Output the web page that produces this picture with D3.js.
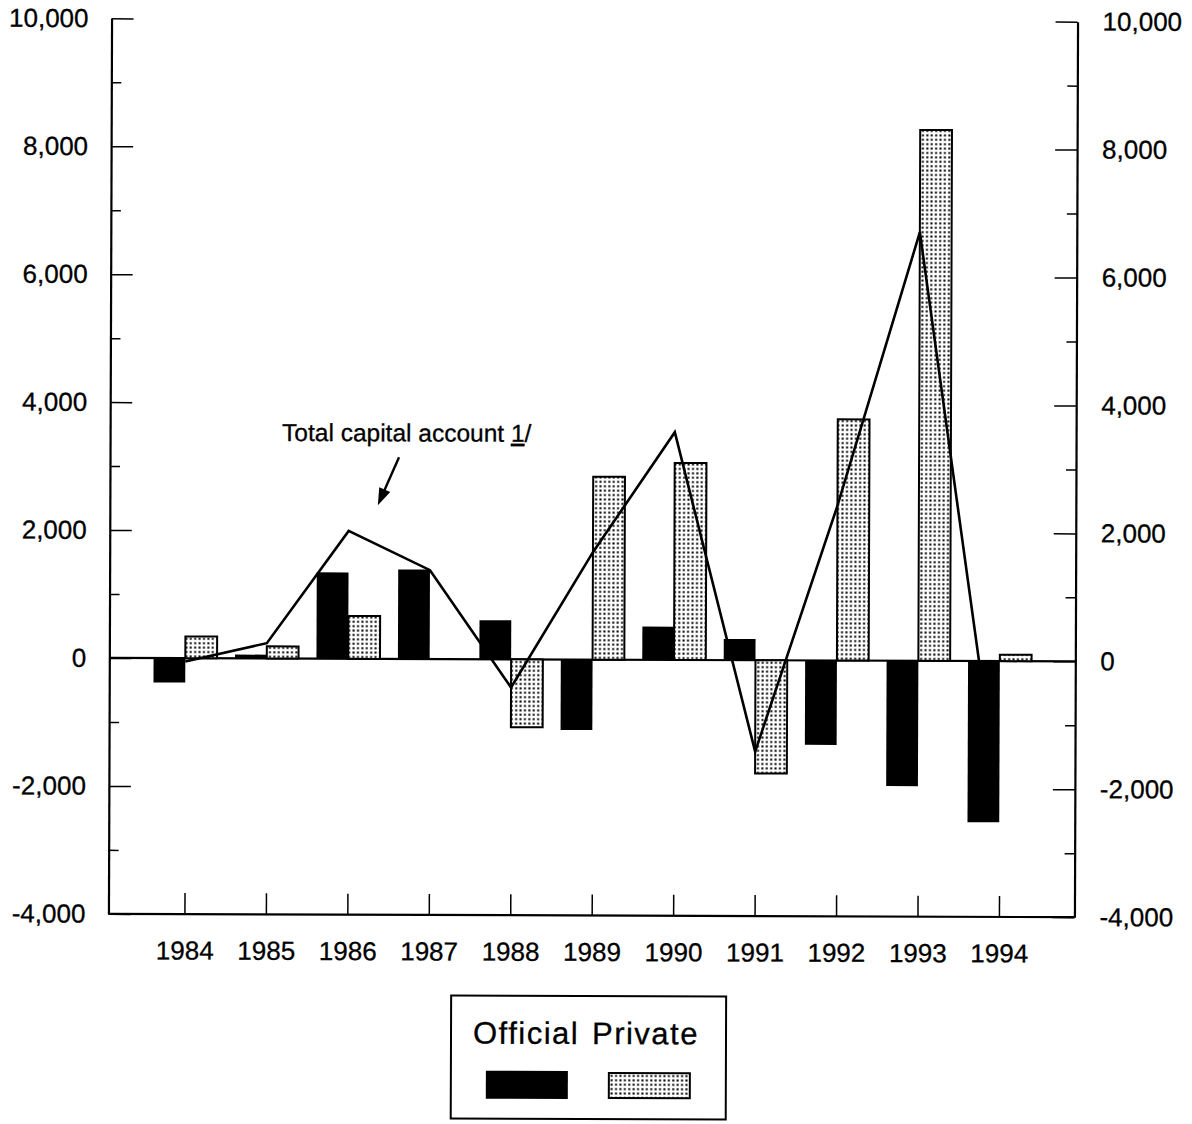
<!DOCTYPE html>
<html>
<head>
<meta charset="utf-8">
<script src="https://cdn.jsdelivr.net/npm/d3@7"></script>
<style>
  html, body { margin: 0; padding: 0; background: #fff; }
  #chart { width: 1192px; height: 1124px; overflow: hidden; }
</style>
</head>
<body>
<div id="chart"></div>
<script>
// years on the bottom axis
var years = [1984, 1985, 1986, 1987, 1988, 1989, 1990, 1991, 1992, 1993, 1994];
// official capital flows (black bars)
var official = [-380, 60, 1350, 1400, 610, -1100, 520, 330, -1320, -1960, -2520];
// private capital flows (dotted bars)
var privateFlows = [340, 190, 670, 0, -1060, 2860, 3080, -1770, 3770, 8300, 100];
// total capital account (line)
var total = [-50, 240, 2000, 1390, -440, 1680, 3560, -1430, 2420, 6700, -2300];
// value axis ticks
var majorTicks = [-4000, -2000, 0, 2000, 4000, 6000, 8000, 10000];
var minorTicks = [-3000, -1000, 1000, 3000, 5000, 7000, 9000];
var legendLabels = ["Official", "Private"];

var width = 1192;
var height = 1124;
var fontFamily = "'Liberation Sans', Arial, sans-serif";

var plotLeft = 110, plotRight = 1076, plotTop = 20, plotBottom = 915.5;

var locale = d3.formatLocale({ decimal: ".", thousands: ",", grouping: [3], currency: ["$", ""], minus: "-" });
var fmt = locale.format(",");

var svg = d3.select("#chart").append("svg")
  .attr("width", width)
  .attr("height", height)
  .attr("font-family", fontFamily);

var defs = svg.append("defs");
var pat = defs.append("pattern")
  .attr("id", "dots")
  .attr("patternUnits", "userSpaceOnUse")
  .attr("width", 4.4)
  .attr("height", 4.4);
pat.append("rect").attr("width", 4.4).attr("height", 4.4).attr("fill", "#fff");
pat.append("rect").attr("x", 1.2).attr("y", 1.2).attr("width", 2).attr("height", 2).attr("fill", "#000");

// the scanned page is tilted a little
var g = svg.append("g").attr("transform", "rotate(0.2, 593, 466)");

var y = d3.scaleLinear().domain([-4000, 10000]).range([plotBottom, plotTop]);
var x = d3.scalePoint().domain(years).range([186, 1000.5]);
var bw = x.step() * 0.39;

// keep the end of the line inside the last black bar
defs.append("clipPath")
  .attr("id", "lineClip")
  .append("rect")
  .attr("x", plotLeft)
  .attr("y", plotTop)
  .attr("width", x(years[years.length - 1]) - 1.5 - plotLeft)
  .attr("height", plotBottom - plotTop);

var data = years.map(function (yr, i) {
  return { year: yr, official: official[i], priv: privateFlows[i], total: total[i] };
});

// zero line
g.append("line")
  .attr("x1", plotLeft).attr("x2", plotRight)
  .attr("y1", y(0)).attr("y2", y(0))
  .attr("stroke", "#000").attr("stroke-width", 2.2);

// private bars
g.selectAll("rect.private")
  .data(data)
  .enter().append("rect")
  .attr("class", "private")
  .attr("x", function (d) { return x(d.year); })
  .attr("y", function (d) { return y(Math.max(0, d.priv)); })
  .attr("width", bw)
  .attr("height", function (d) { return Math.abs(y(d.priv) - y(0)); })
  .attr("fill", "url(#dots)")
  .attr("stroke", "#000")
  .attr("stroke-width", 2);

// total line
var line = d3.line()
  .x(function (d) { return x(d.year); })
  .y(function (d) { return y(d.total); });

g.append("g")
  .attr("clip-path", "url(#lineClip)")
  .append("path")
  .datum(data)
  .attr("d", line)
  .attr("fill", "none")
  .attr("stroke", "#000")
  .attr("stroke-width", 2.6)
  .attr("stroke-linejoin", "miter");

// official bars (the 1994 end of the line sits behind its bar)
g.selectAll("rect.official")
  .data(data)
  .enter().append("rect")
  .attr("class", "official")
  .attr("x", function (d) { return x(d.year) - bw; })
  .attr("y", function (d) { return y(Math.max(0, d.official)); })
  .attr("width", bw)
  .attr("height", function (d) { return Math.abs(y(d.official) - y(0)); })
  .attr("fill", "#000");

// left axis
g.append("g")
  .attr("transform", "translate(" + plotLeft + ",0)")
  .call(d3.axisLeft(y).tickValues(majorTicks).tickFormat(fmt).tickSize(-22).tickSizeOuter(0).tickPadding(23));
g.append("g")
  .attr("transform", "translate(" + plotLeft + ",0)")
  .call(d3.axisLeft(y).tickValues(minorTicks).tickFormat("").tickSize(-10).tickSizeOuter(0))
  .select(".domain").remove();

// right axis
g.append("g")
  .attr("transform", "translate(" + plotRight + ",0)")
  .call(d3.axisRight(y).tickValues(majorTicks).tickFormat(fmt).tickSize(-22).tickSizeOuter(0).tickPadding(25));
g.append("g")
  .attr("transform", "translate(" + plotRight + ",0)")
  .call(d3.axisRight(y).tickValues(minorTicks).tickFormat("").tickSize(-10).tickSizeOuter(0))
  .select(".domain").remove();

// bottom axis
g.append("line")
  .attr("x1", plotLeft).attr("x2", plotRight)
  .attr("y1", plotBottom).attr("y2", plotBottom)
  .attr("stroke", "#000").attr("stroke-width", 2.2);
var bottomAxis = g.append("g")
  .attr("transform", "translate(0," + plotBottom + ")")
  .call(d3.axisBottom(x).tickSize(-21).tickPadding(27));
bottomAxis.select(".domain").remove();

g.selectAll(".tick text")
  .attr("font-family", fontFamily)
  .attr("font-size", "26px")
  .attr("fill", "#000")
  .attr("stroke", "#000")
  .attr("stroke-width", 0.3);
g.selectAll(".tick line").attr("stroke", "#000").attr("stroke-width", 1.5);
g.selectAll(".domain").attr("stroke", "#000").attr("stroke-width", 2.2);

// annotation
var note = g.append("text")
  .attr("x", 282)
  .attr("y", 442)
  .attr("font-size", "24.5px")
  .attr("fill", "#000")
  .attr("stroke", "#000")
  .attr("stroke-width", 0.3);
note.append("tspan").text("Total capital account ");
note.append("tspan").attr("text-decoration", "underline").text("1");
note.append("tspan").text("/");

var ax1 = 399, ay1 = 458, ax2 = 378, ay2 = 506;
var ang = Math.atan2(ay2 - ay1, ax2 - ax1);
g.append("line")
  .attr("x1", ax1).attr("y1", ay1)
  .attr("x2", ax2 - 10 * Math.cos(ang)).attr("y2", ay2 - 10 * Math.sin(ang))
  .attr("stroke", "#000").attr("stroke-width", 2.4);
var headLen = 17, headW = 6;
var bx = ax2 - headLen * Math.cos(ang), by = ay2 - headLen * Math.sin(ang);
g.append("path")
  .attr("d", "M" + ax2 + "," + ay2 +
    "L" + (bx + headW * Math.sin(ang)) + "," + (by - headW * Math.cos(ang)) +
    "L" + (bx - headW * Math.sin(ang)) + "," + (by + headW * Math.cos(ang)) + "Z")
  .attr("fill", "#000");

// legend
var legend = g.append("g");
legend.append("rect")
  .attr("x", 453).attr("y", 996)
  .attr("width", 275).attr("height", 123)
  .attr("fill", "none").attr("stroke", "#000").attr("stroke-width", 2);
legend.selectAll("text")
  .data(legendLabels)
  .enter().append("text")
  .attr("x", function (d, i) { return i == 0 ? 475 : 594; })
  .attr("y", 1044)
  .attr("font-size", "31px")
  .attr("letter-spacing", "1.5px")
  .attr("stroke", "#000")
  .attr("stroke-width", 0.3)
  .text(function (d) { return d; });
legend.append("rect")
  .attr("x", 488).attr("y", 1071)
  .attr("width", 82).attr("height", 28)
  .attr("fill", "#000");
legend.append("rect")
  .attr("x", 611).attr("y", 1073)
  .attr("width", 81).attr("height", 25)
  .attr("fill", "url(#dots)")
  .attr("stroke", "#000").attr("stroke-width", 2);
</script>
</body>
</html>
